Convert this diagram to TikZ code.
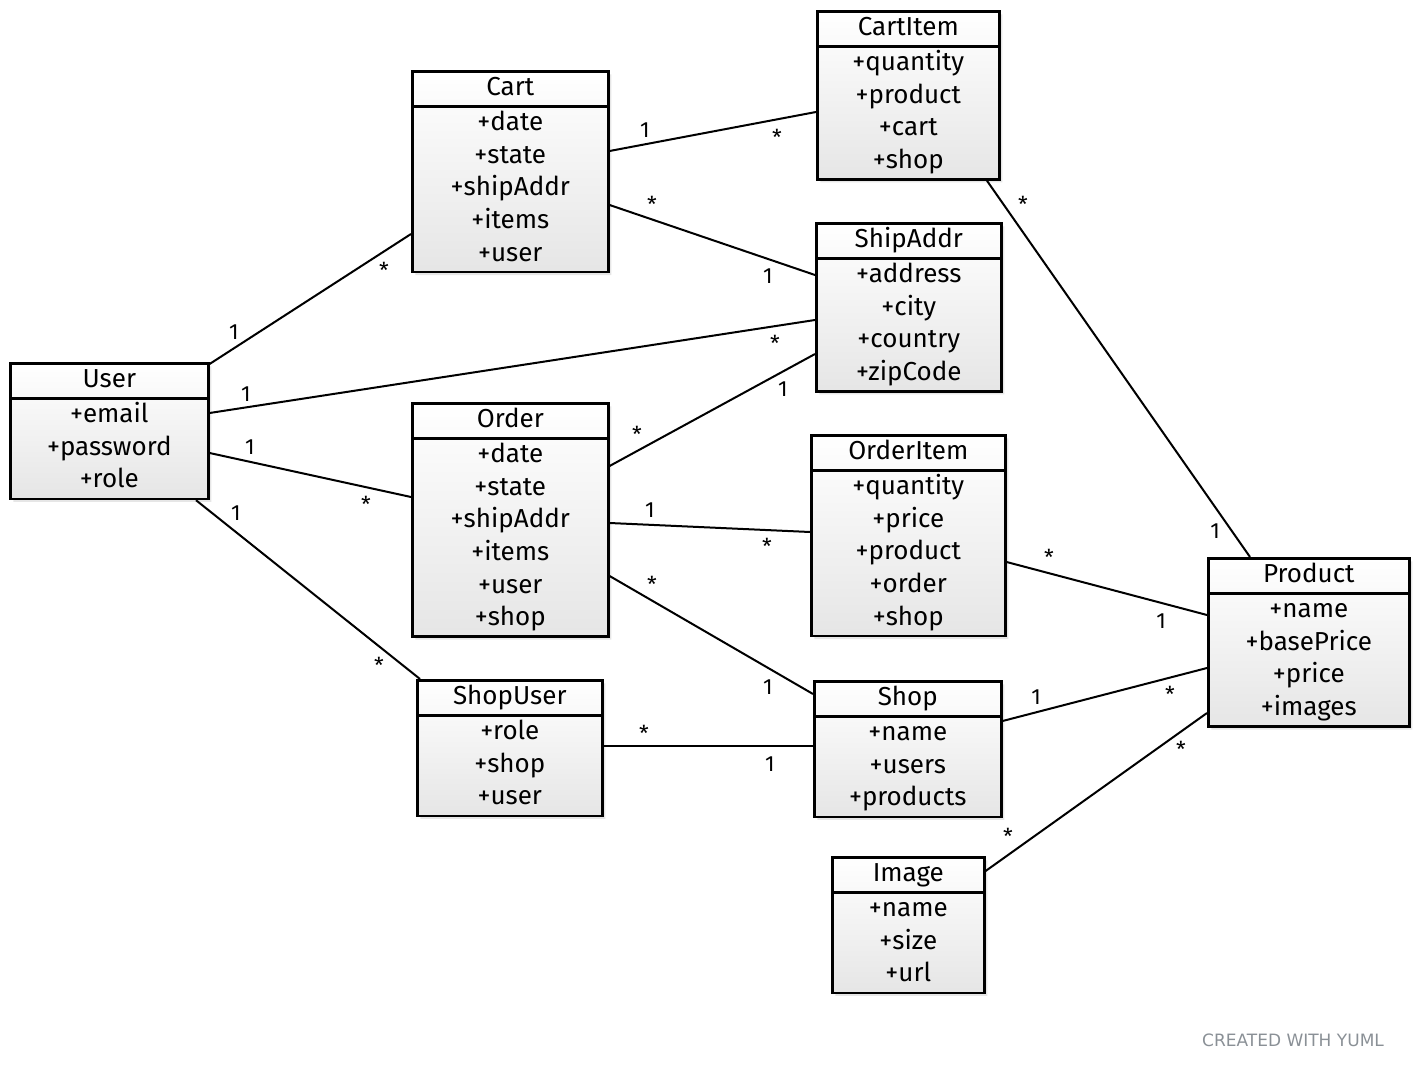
\documentclass[tikz,border=0pt]{standalone}
\usepackage{fontspec}
\setmainfont{Fira Sans}
\newfontfamily\creditfont{DejaVu Sans}
\usetikzlibrary{shapes.multipart, shadows}
\definecolor{creditgray}{HTML}{8A9096}

\tikzset{
  umlclass/.style={rectangle split, rectangle split parts=2, draw, line width=1.3pt,
    anchor=north west, inner xsep=0pt, inner ysep=0pt, align=center,
    top color=white, bottom color=black!10,
    drop shadow={shadow xshift=1.5pt, shadow yshift=-1.5pt, opacity=.2},
    font=\fontsize{13}{16.3}\selectfont},
  assoc/.style={line width=1pt},
  mult/.style={font=\fontsize{11}{13}\selectfont, inner sep=0pt}
}

\begin{document}
\begin{tikzpicture}[x=0.5pt, y=-0.5pt]
            \useasboundingbox (0,0) rectangle (1418,1069);

            % classes
            \node[umlclass, text width=98pt] (cart) at (411,70)
              {\strut Cart \nodepart{second}\strut+date\\\strut+state\\\strut+shipAddr\\\strut+items\\\strut+user};
            \node[umlclass, text width=91pt] (cartitem) at (816,10)
              {\strut CartItem \nodepart{second}\strut+quantity\\\strut+product\\\strut+cart\\\strut+shop};
            \node[umlclass, text width=92.5pt] (shipaddr) at (815,222)
              {\strut ShipAddr \nodepart{second}\strut+address\\\strut+city\\\strut+country\\\strut+zipCode};
            \node[umlclass, text width=99pt] (user) at (9,362)
              {\strut User \nodepart{second}\strut+email\\\strut+password\\\strut+role};
            \node[umlclass, text width=98pt] (order) at (411,402)
              {\strut Order \nodepart{second}\strut+date\\\strut+state\\\strut+shipAddr\\\strut+items\\\strut+user\\\strut+shop};
            \node[umlclass, text width=97pt] (orderitem) at (810,434)
              {\strut OrderItem \nodepart{second}\strut+quantity\\\strut+price\\\strut+product\\\strut+order\\\strut+shop};
            \node[umlclass, text width=100.5pt] (product) at (1207,557)
              {\strut Product \nodepart{second}\strut+name\\\strut+basePrice\\\strut+price\\\strut+images};
            \node[umlclass, text width=92.5pt] (shopuser) at (416,679)
              {\strut ShopUser \nodepart{second}\strut+role\\\strut+shop\\\strut+user};
            \node[umlclass, text width=93.5pt] (shop) at (813,680)
              {\strut Shop \nodepart{second}\strut+name\\\strut+users\\\strut+products};
            \node[umlclass, text width=76pt] (image) at (831,856)
              {\strut Image \nodepart{second}\strut+name\\\strut+size\\\strut+url};

            % associations
            \draw[assoc] (user.east |- 0,364) -- (cart.west |- 0,234);
            \draw[assoc] (user.east |- 0,413) -- (shipaddr.west |- 0,320);
            \draw[assoc] (user.east |- 0,453) -- (order.west |- 0,497);
            \draw[assoc] (user.south -| 196,0) -- (shopuser.north -| 420,0);
            \draw[assoc] (cart.east |- 0,151) -- (cartitem.west |- 0,112);
            \draw[assoc] (cart.east |- 0,205) -- (shipaddr.west |- 0,275);
            \draw[assoc] (order.east |- 0,466) -- (shipaddr.west |- 0,354);
            \draw[assoc] (order.east |- 0,523) -- (orderitem.west |- 0,532);
            \draw[assoc] (order.east |- 0,576) -- (shop.west |- 0,694);
            \draw[assoc] (shopuser.east |- 0,746) -- (shop.west |- 0,746);
            \draw[assoc] (cartitem.south -| 987,0) -- (product.north -| 1250,0);
            \draw[assoc] (orderitem.east |- 0,562) -- (product.west |- 0,615);
            \draw[assoc] (shop.east |- 0,721) -- (product.west |- 0,668);
            \draw[assoc] (image.east |- 0,871) -- (product.west |- 0,713);

            % multiplicities
            \node[mult] (uc1) at (234,332) {1};
            \node[mult] (uc2) at (384,270) {*};
            \node[mult] (us1) at (246,394) {1};
            \node[mult] (us2) at (775,343) {*};
            \node[mult] (uo1) at (250,447) {1};
            \node[mult] (uo2) at (366,504) {*};
            \node[mult] (uu1) at (236,513) {1};
            \node[mult] (uu2) at (379,665) {*};
            \node[mult] (cc1) at (645,130) {1};
            \node[mult] (cc2) at (777,137) {*};
            \node[mult] (cs1) at (652,204) {*};
            \node[mult] (cs2) at (768,276) {1};
            \node[mult] (os1) at (637,434) {*};
            \node[mult] (os2) at (783,389) {1};
            \node[mult] (oi1) at (650,510) {1};
            \node[mult] (oi2) at (767,546) {*};
            \node[mult] (oh1) at (652,584) {*};
            \node[mult] (oh2) at (768,687) {1};
            \node[mult] (sh1) at (644,733) {*};
            \node[mult] (sh2) at (770,764) {1};
            \node[mult] (cp1) at (1023,204) {*};
            \node[mult] (cp2) at (1215,531) {1};
            \node[mult] (ip1) at (1049,557) {*};
            \node[mult] (ip2) at (1161,621) {1};
            \node[mult] (hp1) at (1036,697) {1};
            \node[mult] (hp2) at (1170,694) {*};
            \node[mult] (gp1) at (1008,836) {*};
            \node[mult] (gp2) at (1181,749) {*};

            \node[text=creditgray, font=\creditfont\fontsize{8.5}{10}\selectfont] (credit) at (1293,1040) {CREATED WITH YUML};
\end{tikzpicture}
\end{document}
